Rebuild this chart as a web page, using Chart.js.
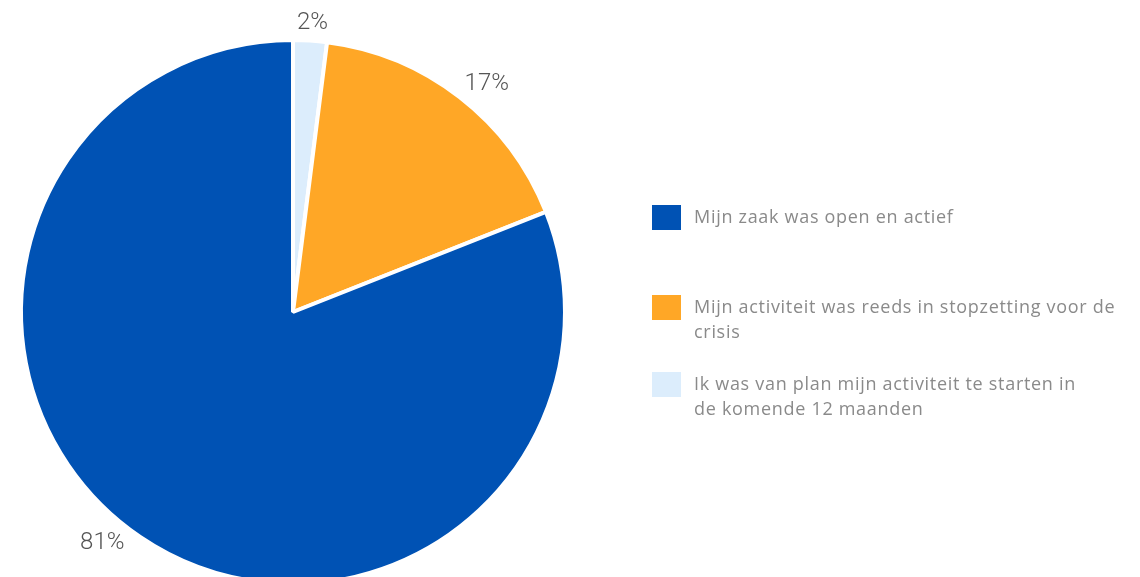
<!DOCTYPE html>
<html>
  <head>
    <style>
      html, body { margin: 0; background: #fff; overflow: hidden; }
      #chart-container { position: relative; width: 1140px; height: 640px; }
      #legend { position: absolute; left: 652px; top: 205px; font-family: "Open Sans", Roboto, sans-serif; font-size: 18px; letter-spacing: 0.7px; color: #8a8a8a; }
      .item { display: flex; align-items: flex-start; }
      .box { width: 29px; height: 25px; flex: none; margin-right: 13px; }
      .txt { line-height: 25px; margin-top: -1px; white-space: nowrap; }
    </style>
  </head>
  <body>
    <div id="chart-container">
      <canvas id="chart"></canvas>
      <div id="legend"></div>
    </div>

    <script src="https://cdn.jsdelivr.net/npm/chart.js"></script>
    <script>
      // slices clockwise from 12 o'clock
      const labels = [
        ["Ik was van plan mijn activiteit te starten in", "de komende 12 maanden"],
        ["Mijn activiteit was reeds in stopzetting voor de", "crisis"],
        ["Mijn zaak was open en actief"]
      ];
      const values = [2, 17, 81];
      const colors = ["#DCEDFC", "#FFA726", "#0052B4"];

      // draws the % labels just outside the pie
      const outsideLabels = {
        id: "outsideLabels",
        afterDatasetsDraw(chart) {
          const ctx = chart.ctx;
          const meta = chart.getDatasetMeta(0);
          ctx.save();
          ctx.font = "300 24px Roboto, sans-serif";
          ctx.fillStyle = "#555";
          ctx.textBaseline = "middle";
          ctx.textAlign = "center";
          meta.data.forEach(function (arc, i) {
            const mid = (arc.startAngle + arc.endAngle) / 2;
            const r = arc.outerRadius + 22;
            const text = values[i] + "%";
            const w = ctx.measureText(text).width;
            let x = arc.x + Math.cos(mid) * r + Math.cos(mid) * w / 2;
            let y = arc.y + Math.sin(mid) * r + 4;
            // keep the bottom label inside the visible area
            if (y > 545) { y = 543; x -= 13; }
            ctx.fillText(text, x, y);
          });
          ctx.restore();
        }
      };

      const canvas = document.getElementById("chart");
      canvas.width = 1140;
      canvas.height = 640;

      const chart = new Chart(canvas, {
        type: "pie",
        data: {
          labels: labels,
          datasets: [{
            data: values,
            backgroundColor: colors,
            borderColor: "#fff",
            borderWidth: 4
          }]
        },
        options: {
          responsive: false,
          animation: false,
          layout: {
            padding: { top: 38, left: 19, right: 573, bottom: 54 }
          },
          plugins: {
            legend: { display: false },
            tooltip: { enabled: false }
          }
        },
        plugins: [outsideLabels]
      });

      // html legend, reversed order
      const legend = document.getElementById("legend");
      const gaps = [0, 65, 28];
      [2, 1, 0].forEach(function (i, n) {
        const item = document.createElement("div");
        item.className = "item";
        item.style.marginTop = gaps[n] + "px";
        const box = document.createElement("div");
        box.className = "box";
        box.style.background = colors[i];
        const txt = document.createElement("div");
        txt.className = "txt";
        txt.innerHTML = labels[i].join("<br>");
        item.appendChild(box);
        item.appendChild(txt);
        legend.appendChild(item);
      });
    </script>
  </body>
</html>
